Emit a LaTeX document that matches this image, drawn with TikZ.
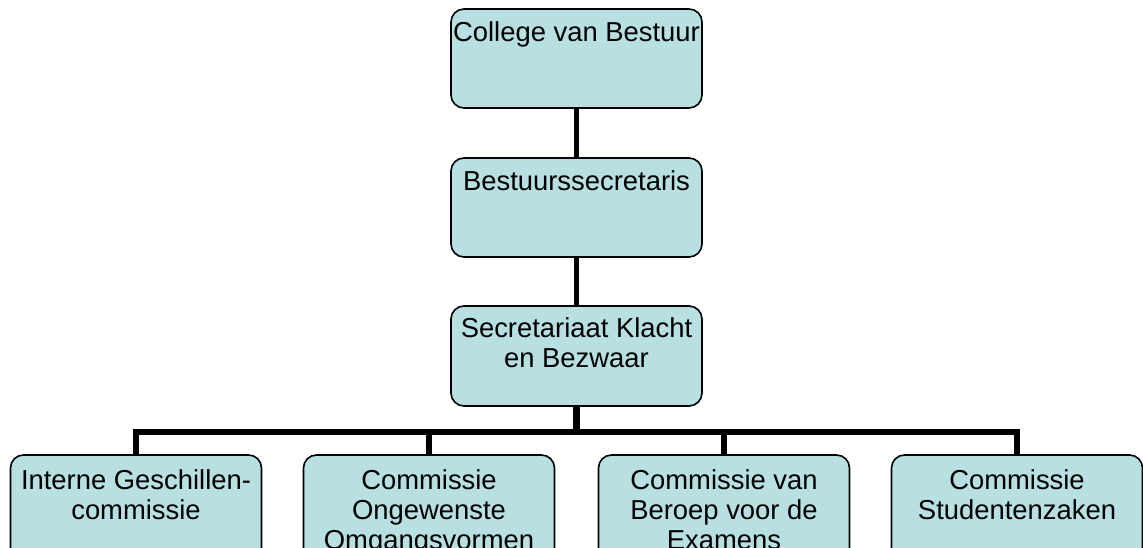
\documentclass[tikz,border=0pt]{standalone}
\usepackage{fontspec}
\setmainfont{Liberation Sans}
\definecolor{boxfill}{RGB}{184,223,226}
\begin{document}
\begin{tikzpicture}[x=1pt,y=-1pt,
  box/.style={draw=black,line width=1.6pt,fill=boxfill,rounded corners=13pt,
    minimum width=251pt,inner sep=0pt},
  lbl/.style={anchor=north,inner sep=0pt,align=center,
    font=\fontsize{27.4}{30}\selectfont},
  thin/.style={line width=5pt,line cap=butt},
  thick/.style={line width=6.5pt,line cap=butt,line join=miter}]
\useasboundingbox (0,0) rectangle (1143,548);
\clip (0,0) rectangle (1143,548);
% boxes
\node[box,minimum height=99pt] (cvb) at (576.5,58.5) {};
\node[box,minimum height=99pt] (bs)  at (576.5,207.5) {};
\node[box,minimum height=100pt] (skb) at (576.5,356) {};
\node[box,minimum height=120pt] (b1) at (136,515) {};
\node[box,minimum height=120pt] (b2) at (429,515) {};
\node[box,minimum height=120pt] (b3) at (724,515) {};
\node[box,minimum height=120pt] (b4) at (1017,515) {};
% labels
\node[lbl] (tcvb) at ([yshift=-13pt]cvb.north) {College van Bestuur};
\node[lbl] (tbs)  at ([yshift=-13pt]bs.north) {Bestuurssecretaris};
\node[lbl] (tskb) at ([yshift=-12pt]skb.north) {Secretariaat Klacht\\en Bezwaar};
\node[lbl] (tb1) at ([yshift=-15pt]b1.north) {Interne Geschillen-\\commissie};
\node[lbl] (tb2) at ([yshift=-15pt]b2.north) {Commissie\\Ongewenste\\Omgangsvormen};
\node[lbl] (tb3) at ([yshift=-15pt]b3.north) {Commissie van\\Beroep voor de\\Examens};
\node[lbl] (tb4) at ([yshift=-15pt]b4.north) {Commissie\\Studentenzaken};
% connectors
\coordinate (bar) at (576.5,432);
\draw[thin] (cvb.south) -- (bs.north);
\draw[thin] (bs.south) -- (skb.north);
\draw[thick] (skb.south) -- (bar);
\draw[thick] (b1.north) -- (b1.north |- bar) -- (b4.north |- bar) -- (b4.north);
\draw[thick] (b2.north |- bar) -- (b2.north);
\draw[thick] (b3.north |- bar) -- (b3.north);
\end{tikzpicture}
\end{document}
